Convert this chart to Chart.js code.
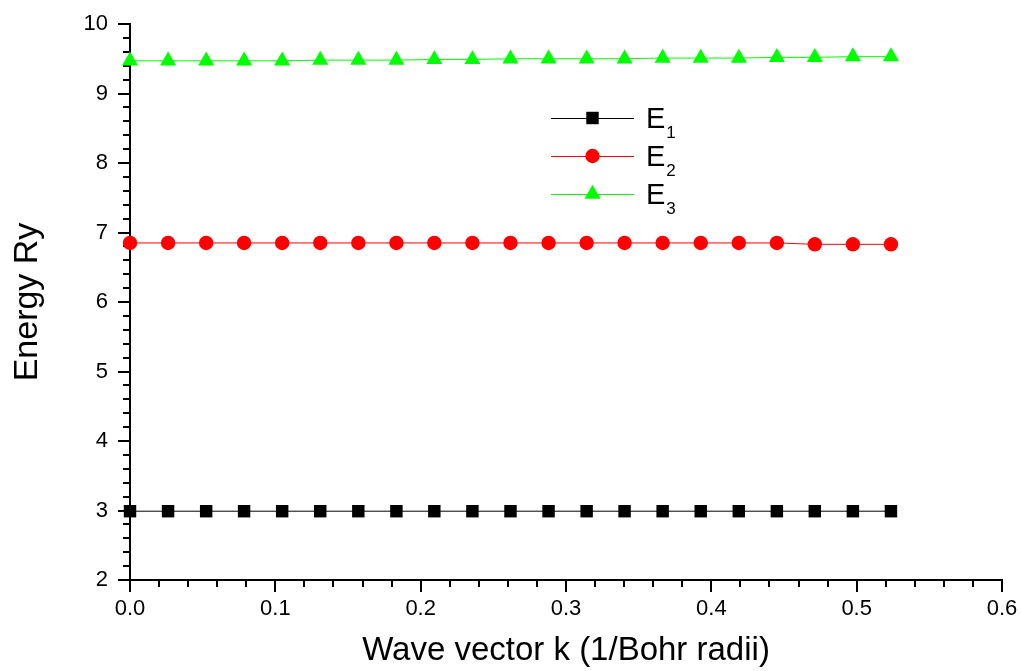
<!DOCTYPE html>
<html>
<head>
<meta charset="utf-8">
<script src="https://cdn.jsdelivr.net/npm/chart.js@4.4.1/dist/chart.umd.min.js"></script>
<style>
  html, body { margin: 0; padding: 0; background: #fff; }
  canvas { display: block; }
</style>
</head>
<body>
<canvas id="bands" width="1021" height="671"></canvas>
<script>
// wave vector k (1/Bohr radii), 21 points from 0 to pi/6
const kValues = [0, 0.0262, 0.0524, 0.0785, 0.1047, 0.1309, 0.1571, 0.1833, 0.2094, 0.2356,
  0.2618, 0.2880, 0.3142, 0.3403, 0.3665, 0.3927, 0.4189, 0.4451, 0.4712, 0.4974, 0.5236];

// band energies (Ry)
const energy1 = [2.99, 2.99, 2.99, 2.99, 2.99, 2.99, 2.99, 2.99, 2.99, 2.99,
  2.99, 2.99, 2.99, 2.99, 2.99, 2.99, 2.99, 2.99, 2.99, 2.99, 2.99];
const energy2 = [6.85, 6.85, 6.85, 6.85, 6.85, 6.85, 6.85, 6.85, 6.85, 6.85,
  6.85, 6.85, 6.85, 6.85, 6.85, 6.85, 6.85, 6.85, 6.83, 6.83, 6.83];
const energy3 = [9.47, 9.47, 9.47, 9.47, 9.47, 9.48, 9.48, 9.48, 9.49, 9.49,
  9.50, 9.50, 9.50, 9.50, 9.51, 9.51, 9.51, 9.52, 9.52, 9.53, 9.53];

const seriesNames = ['E', 'E', 'E'];
const seriesSubs = ['1', '2', '3'];

const xTickValues = [0, 0.1, 0.2, 0.3, 0.4, 0.5, 0.6];
const yTickValues = [2, 3, 4, 5, 6, 7, 8, 9, 10];
const xMinorStep = 0.02;
const yMinorStep = 0.2;

const FONT = '"Liberation Sans", Arial, Helvetica, sans-serif';

function toPoints(ys) {
  return kValues.map((k, i) => ({ x: k, y: ys[i] }));
}

// outward major/minor tick marks on both axes
const axisTicks = {
  id: 'axisTicks',
  beforeDatasetsDraw(chart) {
    const ctx = chart.ctx;
    const xs = chart.scales.x;
    const ys = chart.scales.y;
    ctx.save();
    ctx.strokeStyle = '#000';
    ctx.lineWidth = 2;
    ctx.beginPath();
    const nx = Math.round((xs.max - xs.min) / xMinorStep);
    for (let i = 0; i <= nx; i++) {
      const px = Math.round(xs.getPixelForValue(xs.min + i * xMinorStep));
      const len = i % 5 === 0 ? 12 : 7;
      ctx.moveTo(px, xs.top);
      ctx.lineTo(px, xs.top + len);
    }
    const ny = Math.round((ys.max - ys.min) / yMinorStep);
    for (let i = 0; i <= ny; i++) {
      const py = Math.round(ys.getPixelForValue(ys.min + i * yMinorStep));
      const len = i % 5 === 0 ? 12 : 7;
      ctx.moveTo(ys.right, py);
      ctx.lineTo(ys.right - len, py);
    }
    ctx.stroke();
    ctx.restore();
  }
};

// legend with subscripted labels, drawn inside the plot
const subscriptLegend = {
  id: 'subscriptLegend',
  afterDatasetsDraw(chart) {
    const { ctx, chartArea } = chart;
    const x0 = chartArea.left + 421;
    const x1 = chartArea.left + 504;
    const mx = (x0 + x1) / 2;
    chart.data.datasets.forEach((ds, i) => {
      const y = chartArea.top + 94 + i * 38;
      ctx.save();
      ctx.strokeStyle = ds.borderColor;
      ctx.lineWidth = 1;
      ctx.beginPath();
      ctx.moveTo(x0, y + 0.5);
      ctx.lineTo(x1, y + 0.5);
      ctx.stroke();
      ctx.fillStyle = ds.backgroundColor;
      Chart.helpers.drawPoint(ctx, {
        pointStyle: ds.pointStyle, radius: ds.pointRadius, borderWidth: 0, rotation: 0
      }, mx, y);
      ctx.fillStyle = '#000';
      ctx.textBaseline = 'alphabetic';
      ctx.textAlign = 'left';
      ctx.font = '29px ' + FONT;
      ctx.fillText(seriesNames[i], x1 + 12, y + 10);
      const w = ctx.measureText(seriesNames[i]).width;
      ctx.font = '17px ' + FONT;
      ctx.fillText(seriesSubs[i], x1 + 12 + w + 1, y + 20);
      ctx.restore();
    });
  }
};

const seriesStyle = (color, style, radius) => ({
  borderColor: color,
  backgroundColor: color,
  borderWidth: 1,
  pointStyle: style,
  pointRadius: radius,
  pointBorderWidth: 0,
  pointBackgroundColor: color,
  tension: 0,
  clip: false
});

new Chart(document.getElementById('bands').getContext('2d'), {
  type: 'line',
  data: {
    datasets: [
      { label: 'E1', data: toPoints(energy1), ...seriesStyle('#000000', 'rect', 8.8) },
      { label: 'E2', data: toPoints(energy2), ...seriesStyle('#ff0000', 'circle', 7.2) },
      { label: 'E3', data: toPoints(energy3), ...seriesStyle('#00ff00', 'triangle', 9.3) }
    ]
  },
  options: {
    responsive: false,
    animation: false,
    layout: { padding: { left: 0, top: 24, right: 19, bottom: 0 } },
    plugins: { legend: { display: false }, tooltip: { enabled: false } },
    scales: {
      x: {
        type: 'linear',
        min: 0,
        max: 0.6,
        afterBuildTicks: (s) => { s.ticks = xTickValues.map((v) => ({ value: v })); },
        afterFit: (s) => { s.height = 91; s.paddingLeft = 0; s.paddingRight = 0; },
        grid: { display: true, drawOnChartArea: false, drawTicks: false },
        border: { display: true, color: '#000', width: 2 },
        ticks: {
          color: '#000',
          padding: 16,
          maxRotation: 0,
          font: { family: FONT, size: 22 },
          callback: (v) => Number(v).toFixed(1)
        },
        title: {
          display: true,
          text: 'Wave vector k (1/Bohr radii)',
          color: '#000',
          font: { family: FONT, size: 33 },
          padding: { top: 0, bottom: 0 }
        }
      },
      y: {
        type: 'linear',
        min: 2,
        max: 10,
        afterBuildTicks: (s) => { s.ticks = yTickValues.map((v) => ({ value: v })); },
        afterFit: (s) => { s.width = 130; s.paddingTop = 0; s.paddingBottom = 0; },
        grid: { display: true, drawOnChartArea: false, drawTicks: false },
        border: { display: true, color: '#000', width: 2 },
        ticks: {
          color: '#000',
          padding: 22,
          font: { family: FONT, size: 22 },
          callback: (v) => String(v)
        },
        title: {
          display: true,
          text: 'Energy Ry',
          color: '#000',
          font: { family: FONT, size: 34 },
          padding: { top: 7, bottom: 0 }
        }
      }
    }
  },
  plugins: [axisTicks, subscriptLegend]
});
</script>
</body>
</html>
